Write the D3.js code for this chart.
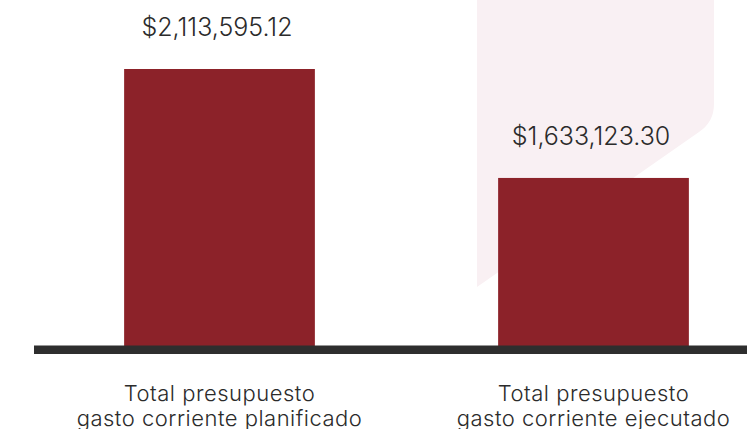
<!DOCTYPE html>
<html>
<head>
<meta charset="utf-8">
<script src="https://cdn.jsdelivr.net/npm/d3@7"></script>
<style>
  html, body { margin: 0; padding: 0; background: #ffffff; overflow: hidden; }
  svg { display: block; }
</style>
</head>
<body>
<svg id="chart" width="747" height="429"></svg>
<script>
const categories = [
  ["Total presupuesto", "gasto corriente planificado"],
  ["Total presupuesto", "gasto corriente ejecutado"]
];
const values = [2113595.12, 1633123.30];
const valueLabels = ["$2,113,595.12", "$1,633,123.30"];

const W = 747, H = 429;
const svg = d3.select("#chart");

const keys = categories.map((c, i) => "c" + i);
const x = d3.scaleBand().domain(keys).range([32.5, 780.5]).paddingInner(0.49).paddingOuter(0.245);
const y = d3.scaleLinear().domain([892000, 2113595.12]).range([346, 69]);

// decorative background shape
svg.append("path")
  .attr("d", "M477,0 L714,0 L714,104 Q714,122 699,132 L477,287 Z")
  .attr("fill", "#f9f0f3");

// bars
svg.selectAll("rect.bar").data(values).enter().append("rect")
  .attr("class", "bar")
  .attr("x", (d, i) => x(keys[i]))
  .attr("width", x.bandwidth())
  .attr("y", d => y(d))
  .attr("height", d => y.range()[0] - y(d))
  .attr("fill", "#8c2229");

// baseline
svg.append("rect")
  .attr("x", 34).attr("y", 345.5)
  .attr("width", W - 34).attr("height", 8.5)
  .attr("fill", "#2e2e2e");

// value labels
svg.selectAll("text.val").data(values).enter().append("text")
  .attr("class", "val")
  .attr("x", (d, i) => x(keys[i]) + x.bandwidth() / 2 - 2.5)
  .attr("y", d => y(d) - 33)
  .attr("text-anchor", "middle")
  .attr("font-family", "Inter, 'Noto Sans', sans-serif")
  .attr("font-weight", 300)
  .attr("font-size", 25)
  .attr("fill", "#2b2b2b")
  .text((d, i) => valueLabels[i]);

// category labels
const cat = svg.selectAll("text.cat").data(categories).enter().append("text")
  .attr("class", "cat")
  .attr("text-anchor", "middle")
  .attr("font-family", "Inter, 'Noto Sans', sans-serif")
  .attr("font-weight", 300)
  .attr("font-size", 22)
  .attr("letter-spacing", 0.5)
  .attr("fill", "#2b2b2b");
cat.each(function(d, i) {
  const cx = x(keys[i]) + x.bandwidth() / 2;
  d3.select(this).selectAll("tspan").data(d).enter().append("tspan")
    .attr("x", cx)
    .attr("y", (t, j) => 401 + j * 25)
    .text(t => t);
});
</script>
</body>
</html>
